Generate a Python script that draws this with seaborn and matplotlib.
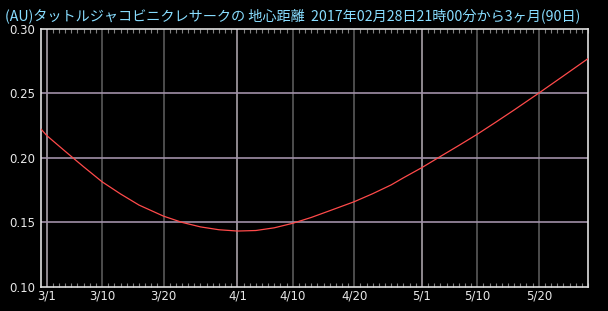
import matplotlib
matplotlib.use("Agg")
import matplotlib.pyplot as plt
import seaborn as sns
import pandas as pd
import numpy as np

# Days relative to 3/1 and geocentric distance (AU)
days = [-0.93, 0, 3, 6, 9, 12, 15, 19, 22, 25, 28, 31, 34, 37, 40, 43, 46, 50,
        53, 56, 58, 61, 64, 67, 70, 73, 76, 80, 84, 88.0]
dist = [0.2222, 0.2172, 0.2050, 0.1930, 0.1814, 0.1720, 0.1634, 0.1548, 0.1500,
        0.1465, 0.1443, 0.1433, 0.1437, 0.1458, 0.1493, 0.1538, 0.1590, 0.1660,
        0.1722, 0.1790, 0.1845, 0.1924, 0.2010, 0.2095, 0.2182, 0.2275, 0.2370,
        0.2500, 0.2633, 0.2767]

tick_days = [0, 9, 19, 31, 40, 50, 61, 70, 80]
tick_labels = ["3/1", "3/10", "3/20", "4/1", "4/10", "4/20", "5/1", "5/10", "5/20"]
month_days = [0, 31, 61]
y_ticks = [0.10, 0.15, 0.20, 0.25, 0.30]
y_labels = ["0.10", "0.15", "0.20", "0.25", "0.30"]
title = "(AU)タットルジャコビニクレサークの 地心距離  2017年02月28日21時00分から3ヶ月(90日)"

sns.set_theme(style="dark")
plt.rcParams['font.family'] = ['Noto Sans CJK JP', 'DejaVu Sans']

W, H = 608, 311
fig = plt.figure(figsize=(W / 100, H / 100), dpi=100, facecolor="black")
ax = fig.add_axes([41 / W, 1 - 287 / H, (588 - 41) / W, (287 - 28.5) / H])
ax.set_facecolor("black")

df = pd.DataFrame({"day": days, "dist": dist})

# grid lines
for d in tick_days:
    c = "#a8a0a8" if d in month_days else "#5a5a5a"
    ax.axvline(d, color=c, lw=1.2, zorder=1)
for y in [0.15, 0.20, 0.25]:
    ax.axhline(y, color="#a090a8", lw=1.2, zorder=1)

sns.lineplot(data=df, x="day", y="dist", ax=ax, color="#ff4a4a", lw=0.9, zorder=3)

ax.set_xlim(-0.93, 88.0)
ax.set_ylim(0.10, 0.30)
ax.set_xlabel("")
ax.set_ylabel("")

ax.set_xticks(tick_days)
ax.set_xticklabels(tick_labels)
ax.set_xticks(np.arange(0, 89, 1), minor=True)
ax.tick_params(axis="x", which="major", length=0, colors="white", labelsize=8.5, pad=2)
ax.tick_params(axis="x", which="minor", direction="in", length=3, color="#808080",
               top=True, bottom=True, width=0.8)
ax.set_yticks(y_ticks)
ax.set_yticklabels(y_labels)
ax.tick_params(axis="y", which="major", length=0, colors="white", labelsize=8.5, pad=4)
for lab in ax.get_xticklabels() + ax.get_yticklabels():
    lab.set_family(['DejaVu Sans'])
    lab.set_color("#e8e8e8")

for s in ax.spines.values():
    s.set_color("#e0e0e0")
    s.set_linewidth(1.2)
    s.set_visible(True)
ax.grid(False)

fig.text(5 / W, 1 - 16 / H, title, color="#88ddff", fontsize=10.2, va="center", ha="left",
         family=['Noto Sans CJK JP', 'DejaVu Sans'])

fig.savefig("out.png", dpi=100, facecolor="black")
